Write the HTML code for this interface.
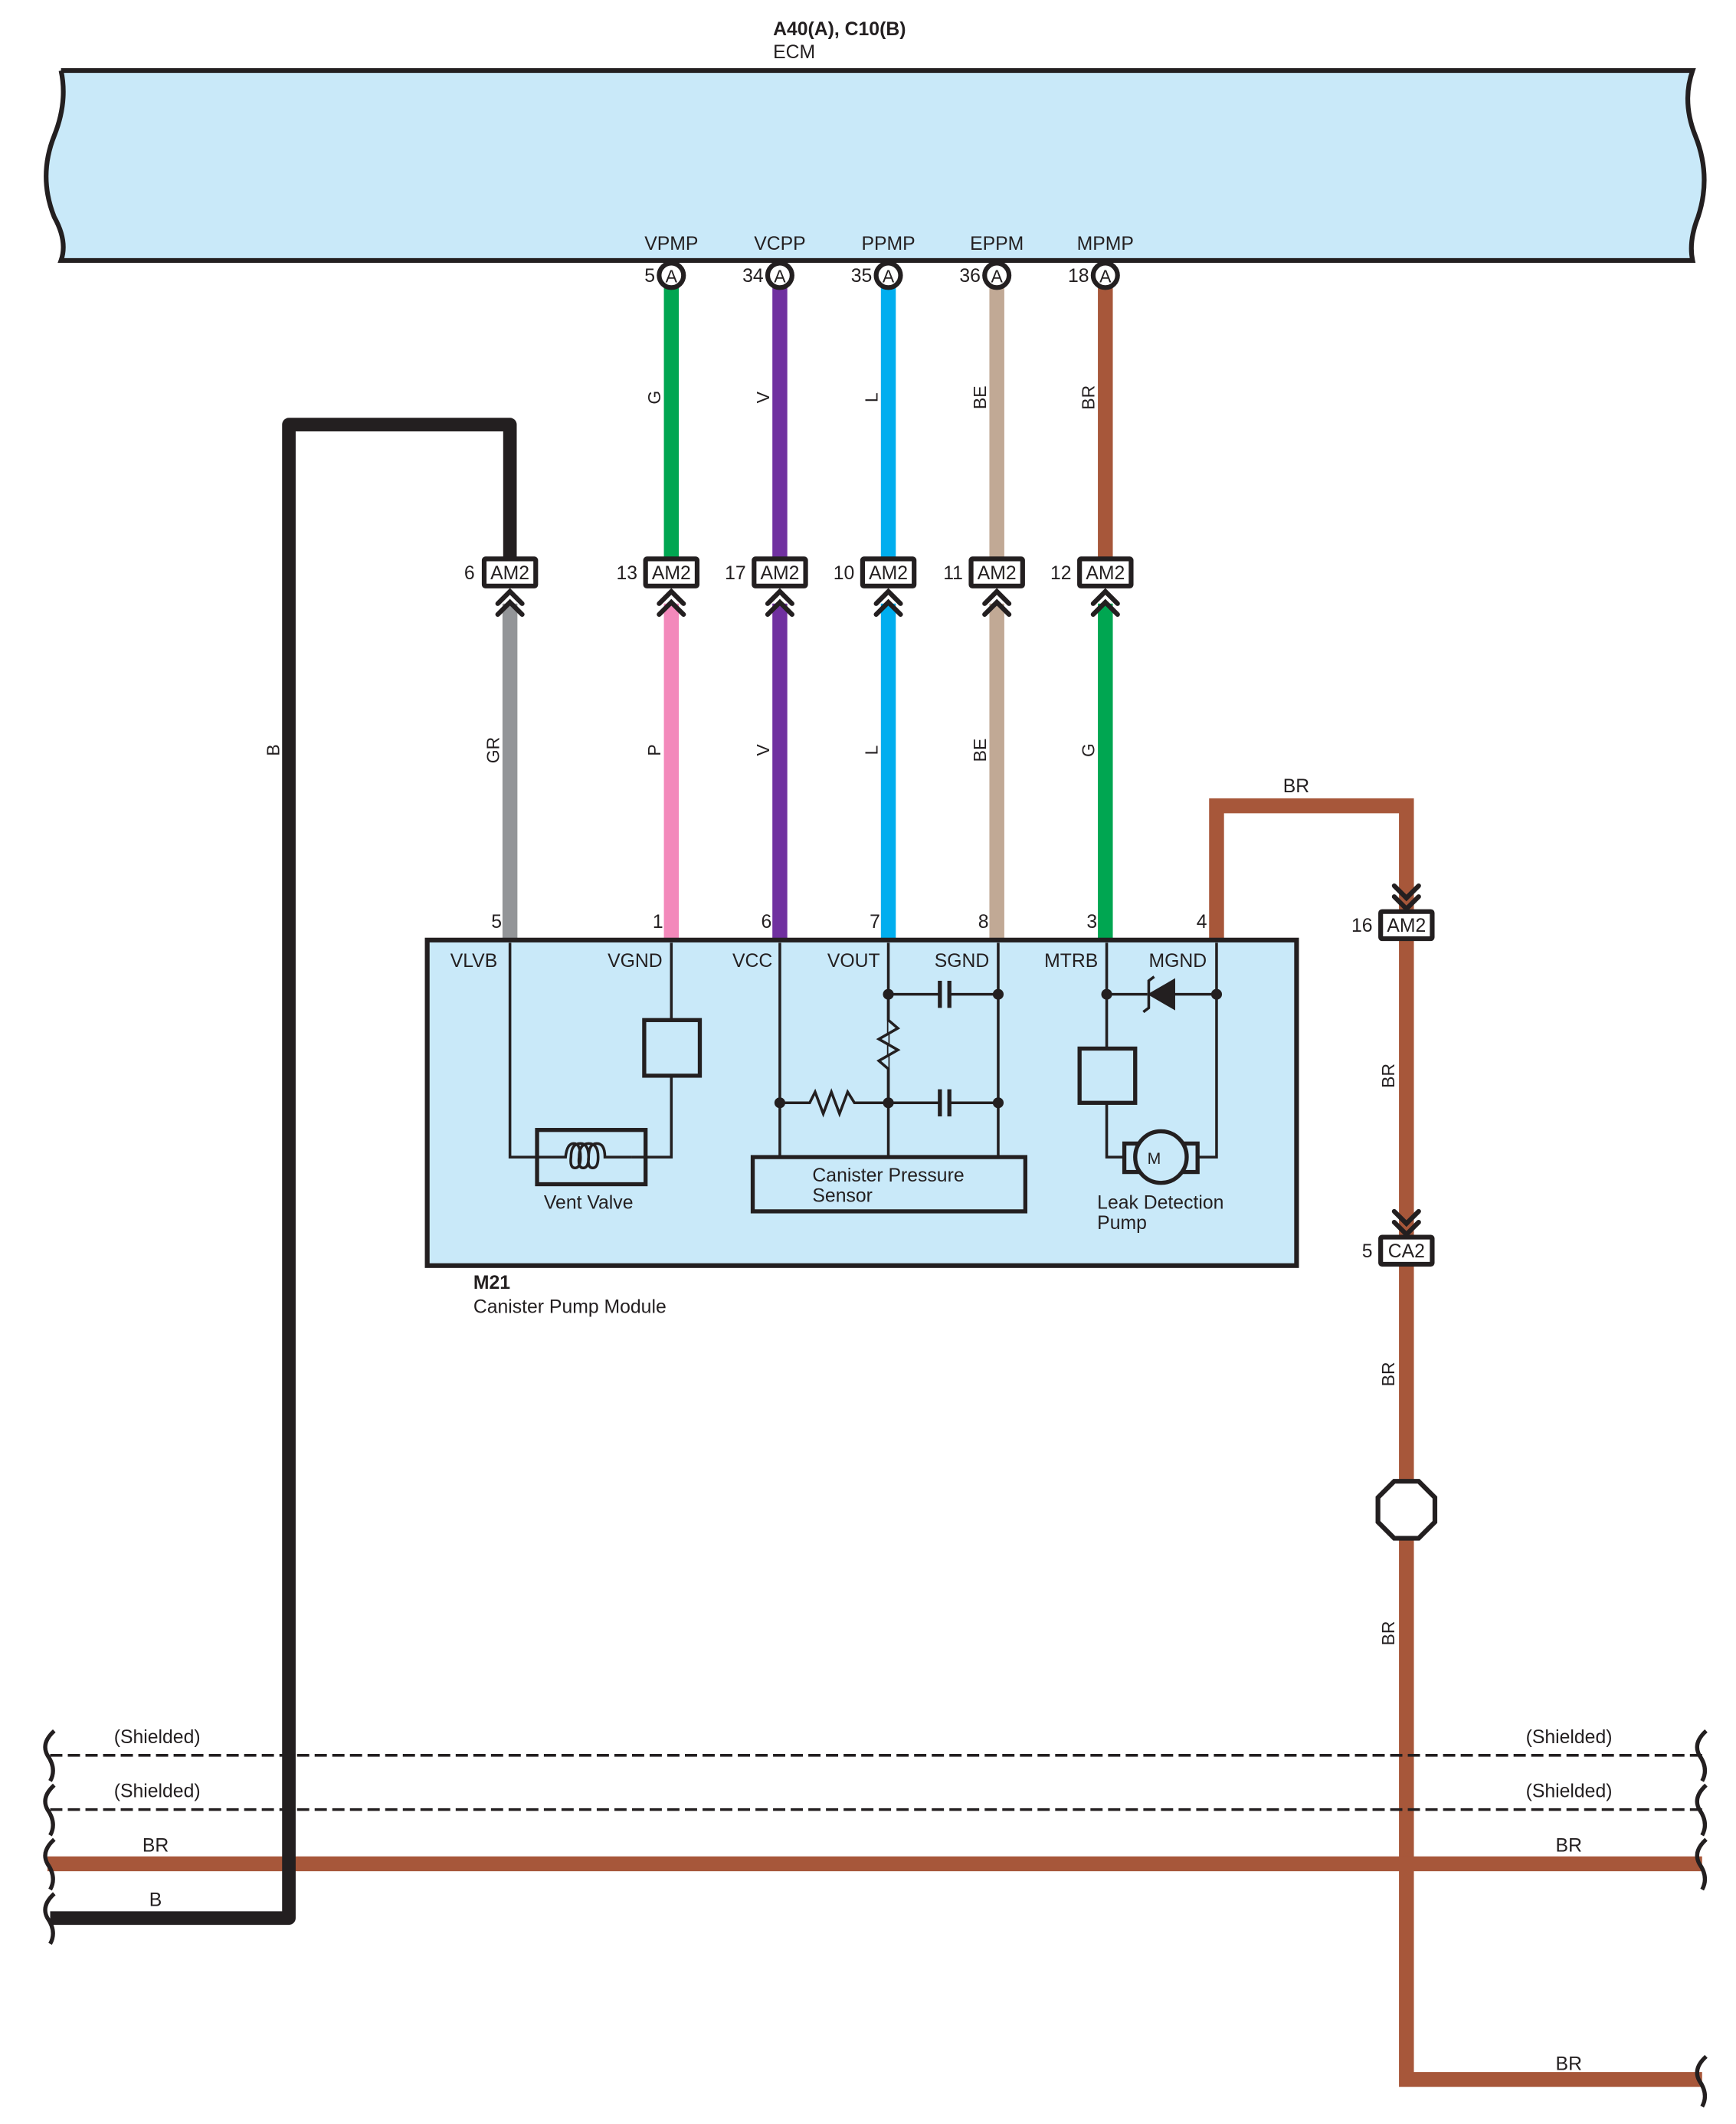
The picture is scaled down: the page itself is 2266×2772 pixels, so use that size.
<!DOCTYPE html>
<html><head><meta charset="utf-8"><style>
html,body{margin:0;padding:0;background:#fff}
svg{display:block}
text{font-family:"Liberation Sans",sans-serif;fill:#231f20}
</style></head><body>
<svg width="2266" height="2772" viewBox="0 0 1280 1565.8" xmlns="http://www.w3.org/2000/svg">
<defs>
<g id="am2"><rect x="-19" y="-10" width="38" height="20" fill="#fff" stroke="#231f20" stroke-width="3.5" rx="1"/></g>
<g id="chevU" fill="none" stroke="#231f20" stroke-width="3.5" stroke-linecap="round"><path d="M-9,23 L0,14 L9,23 M-9,31 L0,22 L9,31"/></g>
<g id="chevD" fill="none" stroke="#231f20" stroke-width="3.5" stroke-linecap="round"><path d="M-9,-29 L0,-20 L9,-29 M-9,-21 L0,-12 L9,-21"/></g>
<g id="pinA"><circle r="9" fill="#fff" stroke="#231f20" stroke-width="3.5"/><text y="5" text-anchor="middle" font-size="13">A</text></g>
</defs>

<!-- ECM -->
<text x="570" y="26" font-size="14" font-weight="bold">A40(A), C10(B)</text>
<text x="570" y="43" font-size="14">ECM</text>
<path d="M45,52 L1248,52 Q1240,75 1250,100 Q1262,130 1252,160 Q1245,178 1248,192 L45,192 Q50,178 40,160 Q28,130 40,100 Q50,75 45,52" fill="#c9e9f9" stroke="#231f20" stroke-width="3.5"/>

<!-- upper wires -->
<g stroke-width="11">
<line x1="495" y1="212" x2="495" y2="412" stroke="#00a651"/>
<line x1="575" y1="212" x2="575" y2="412" stroke="#7030a0"/>
<line x1="655" y1="212" x2="655" y2="412" stroke="#00aeef"/>
<line x1="735" y1="212" x2="735" y2="412" stroke="#c1a995"/>
<line x1="815" y1="212" x2="815" y2="412" stroke="#a7573a"/>
</g>
<g font-size="14" text-anchor="middle">
<text x="495" y="184">VPMP</text><text x="575" y="184">VCPP</text><text x="655" y="184">PPMP</text><text x="735" y="184">EPPM</text><text x="815" y="184">MPMP</text>
</g>
<use href="#pinA" x="495" y="203"/><use href="#pinA" x="575" y="203"/><use href="#pinA" x="655" y="203"/><use href="#pinA" x="735" y="203"/><use href="#pinA" x="815" y="203"/>
<g font-size="14" text-anchor="end">
<text x="483" y="208">5</text><text x="563" y="208">34</text><text x="643" y="208">35</text><text x="723" y="208">36</text><text x="803" y="208">18</text>
</g>
<g font-size="13" text-anchor="middle">
<text transform="translate(487,293) rotate(-90)">G</text>
<text transform="translate(567,293) rotate(-90)">V</text>
<text transform="translate(647,293) rotate(-90)">L</text>
<text transform="translate(727,293) rotate(-90)">BE</text>
<text transform="translate(807,293) rotate(-90)">BR</text>
</g>

<!-- lower wires -->
<g stroke-width="11">
<line x1="376" y1="445" x2="376" y2="693" stroke="#939598"/>
<line x1="495" y1="445" x2="495" y2="693" stroke="#f389bb"/>
<line x1="575" y1="445" x2="575" y2="693" stroke="#7030a0"/>
<line x1="655" y1="445" x2="655" y2="693" stroke="#00aeef"/>
<line x1="735" y1="445" x2="735" y2="693" stroke="#c1a995"/>
<line x1="815" y1="445" x2="815" y2="693" stroke="#00a651"/>
</g>
<g font-size="13" text-anchor="middle">
<text transform="translate(368,553) rotate(-90)">GR</text>
<text transform="translate(487,553) rotate(-90)">P</text>
<text transform="translate(567,553) rotate(-90)">V</text>
<text transform="translate(647,553) rotate(-90)">L</text>
<text transform="translate(727,553) rotate(-90)">BE</text>
<text transform="translate(807,553) rotate(-90)">G</text>
<text transform="translate(206,553) rotate(-90)">B</text>
</g>

<!-- BR and bottom horizontal -->
<path d="M897,693 L897,594 L1037,594 L1037,1533 L1255,1533" fill="none" stroke="#a7573a" stroke-width="11"/>
<line x1="35" y1="1374" x2="1255" y2="1374" stroke="#a7573a" stroke-width="11"/>
<g stroke="#231f20" stroke-width="2" stroke-dasharray="9,4">
<line x1="37" y1="1294" x2="1255" y2="1294"/>
<line x1="37" y1="1334" x2="1255" y2="1334"/>
</g>
<path d="M37,1414 L213,1414 L213,313 L376,313 L376,412" fill="none" stroke="#231f20" stroke-width="10" stroke-linejoin="round"/>

<!-- wavy ends -->
<g fill="none" stroke="#231f20" stroke-width="3">
<path d="M40,1276 Q30,1285 35,1294 Q42,1304 37,1313 M40,1316 Q30,1325 35,1334 Q42,1344 37,1353 M40,1356 Q30,1365 35,1374 Q42,1384 37,1393 M40,1396 Q30,1405 35,1414 Q42,1424 37,1433"/>
<path d="M1258,1276 Q1248,1285 1253,1294 Q1260,1304 1255,1313 M1258,1316 Q1248,1325 1253,1334 Q1260,1344 1255,1353 M1258,1356 Q1248,1365 1253,1374 Q1260,1384 1255,1393 M1258,1516 Q1248,1525 1253,1534 Q1260,1544 1255,1553"/>
</g>
<g font-size="14">
<text x="84" y="1285">(Shielded)</text><text x="84" y="1325">(Shielded)</text>
<text x="105" y="1365">BR</text><text x="110" y="1405">B</text>
<text x="1125" y="1285">(Shielded)</text><text x="1125" y="1325">(Shielded)</text>
<text x="1147" y="1365">BR</text><text x="1147" y="1526">BR</text>
<text x="946" y="584">BR</text>
</g>
<g font-size="13" text-anchor="middle">
<text transform="translate(1028,793) rotate(-90)">BR</text>
<text transform="translate(1028,1013) rotate(-90)">BR</text>
<text transform="translate(1028,1204) rotate(-90)">BR</text>
</g>

<!-- connectors -->
<g font-size="14">
<use href="#am2" x="376" y="422"/><use href="#chevU" x="376" y="422"/><text x="376" y="427" text-anchor="middle">AM2</text><text x="350" y="427" text-anchor="end">6</text>
<use href="#am2" x="495" y="422"/><use href="#chevU" x="495" y="422"/><text x="495" y="427" text-anchor="middle">AM2</text><text x="470" y="427" text-anchor="end">13</text>
<use href="#am2" x="575" y="422"/><use href="#chevU" x="575" y="422"/><text x="575" y="427" text-anchor="middle">AM2</text><text x="550" y="427" text-anchor="end">17</text>
<use href="#am2" x="655" y="422"/><use href="#chevU" x="655" y="422"/><text x="655" y="427" text-anchor="middle">AM2</text><text x="630" y="427" text-anchor="end">10</text>
<use href="#am2" x="735" y="422"/><use href="#chevU" x="735" y="422"/><text x="735" y="427" text-anchor="middle">AM2</text><text x="710" y="427" text-anchor="end">11</text>
<use href="#am2" x="815" y="422"/><use href="#chevU" x="815" y="422"/><text x="815" y="427" text-anchor="middle">AM2</text><text x="790" y="427" text-anchor="end">12</text>
<use href="#am2" x="1037" y="682"/><use href="#chevD" x="1037" y="682"/><text x="1037" y="687" text-anchor="middle">AM2</text><text x="1012" y="687" text-anchor="end">16</text>
<use href="#am2" x="1037" y="922"/><use href="#chevD" x="1037" y="922"/><text x="1037" y="927" text-anchor="middle">CA2</text><text x="1012" y="927" text-anchor="end">5</text>
</g>

<!-- octagon -->
<polygon points="1028,1092 1046,1092 1058,1104 1058,1122 1046,1134 1028,1134 1016,1122 1016,1104" fill="#fff" stroke="#231f20" stroke-width="3.5"/>

<!-- module -->
<rect x="315" y="693" width="641" height="240" fill="#c9e9f9" stroke="#231f20" stroke-width="3.5"/>
<g font-size="14" text-anchor="end">
<text x="370" y="684">5</text><text x="489" y="684">1</text><text x="569" y="684">6</text><text x="649" y="684">7</text><text x="729" y="684">8</text><text x="809" y="684">3</text><text x="890" y="684">4</text>
</g>
<g font-size="14">
<text x="332" y="713">VLVB</text><text x="448" y="713">VGND</text><text x="540" y="713">VCC</text><text x="610" y="713">VOUT</text><text x="689" y="713">SGND</text><text x="770" y="713">MTRB</text><text x="847" y="713">MGND</text>
</g>
<g fill="none" stroke="#231f20" stroke-width="2">
<path d="M376,695 L376,853 L407,853 M466,853 L495,853 L495,793 M495,752 L495,695"/>
<path d="M407,853 L417,853 Q418,843 423,843 Q428,843 428,853 Q428,861 424,861 Q420,861 421,853 Q421,843 428,843 Q434,843 434,853 Q434,861 430,861 Q426,861 427,853 Q427,843 434,843 Q441,843 441,853 Q441,861 437,861 Q433,861 434,853 Q434,843 440,843 Q446,843 446,853 L466,853"/>
<path d="M575,695 L575,853 M655,695 L655,853 M736,695 L736,853"/>
<path d="M575,813 L597,813 L601,805 L607,821 L613,805 L619,821 L625,805 L630,813 L655,813"/>
<path d="M655,733 L655,752 L662,758 L648,766 L662,774 L648,782 L655,788 L655,813" fill="#c9e9f9"/>
<path d="M655,733 L692,733 M701,733 L736,733 M655,813 L692,813 M701,813 L736,813"/>
<path d="M816,695 L816,773 M816,813 L816,853 L829,853 M883,853 L897,853 L897,695 M816,733 L846,733 M866,733 L897,733"/>
</g>
<g stroke="#231f20" stroke-width="3" fill="none">
<rect x="475" y="752" width="41" height="41"/>
<rect x="396" y="833" width="80" height="40"/>
<rect x="555" y="853" width="201" height="40"/>
<path d="M693,723 L693,743 M700,723 L700,743 M693,803 L693,823 M700,803 L700,823"/>
<rect x="796" y="773" width="41" height="40"/>
<rect x="829" y="843" width="54" height="21" fill="#c9e9f9"/>
<circle cx="856" cy="853" r="19" fill="#c9e9f9"/>
<path d="M866,722 L866,744 L847,733 Z" fill="#231f20" stroke-width="1"/>
<path d="M843,746 L847,743 L847,723 L851,720" stroke-width="2"/>
</g>
<g fill="#231f20">
<circle cx="575" cy="813" r="4"/><circle cx="655" cy="813" r="4"/><circle cx="736" cy="813" r="4"/>
<circle cx="655" cy="733" r="4"/><circle cx="736" cy="733" r="4"/>
<circle cx="816" cy="733" r="4"/><circle cx="897" cy="733" r="4"/>
</g>
<g font-size="14">
<text x="401" y="891">Vent Valve</text>
<text x="599" y="871">Canister Pressure</text><text x="599" y="886">Sensor</text>
<text x="851" y="858" text-anchor="middle" font-size="12">M</text>
<text x="809" y="891">Leak Detection</text><text x="809" y="906">Pump</text>
<text x="349" y="950" font-weight="bold">M21</text>
<text x="349" y="968">Canister Pump Module</text>
</g>
</svg>
</body></html>
